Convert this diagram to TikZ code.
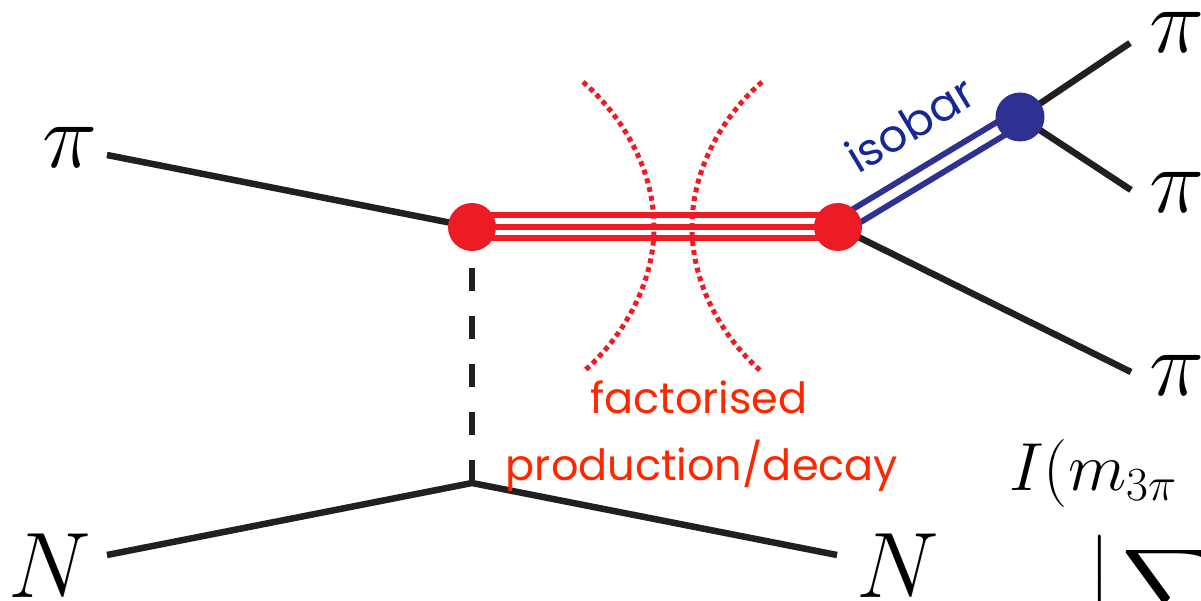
\RequirePackage{fix-cm}
\documentclass[tikz,border=0pt]{standalone}
\usepackage{exscale}
\usepackage{fontspec}
\usepackage{tikz}
\DeclareFontShape{OMX}{cmex}{m}{n}{<->cmex10}{}
\newfontfamily\slidefont{Poppins}
\definecolor{legblack}{RGB}{35,31,32}
\definecolor{prodred}{RGB}{237,28,36}
\definecolor{textred}{RGB}{255,38,0}
\definecolor{isoblue}{RGB}{46,49,146}
\definecolor{isotext}{RGB}{20,40,150}
\tikzset{
  leg/.style={line width=6.5pt,legblack},
  exchange/.style={line width=6pt,legblack,dash pattern=on 23pt off 25pt},
  reddot/.style={circle,fill=prodred,minimum size=48pt,inner sep=0pt},
  bluedot/.style={circle,fill=isoblue,minimum size=49pt,inner sep=0pt},
  cutline/.style={line width=5pt,prodred,dash pattern=on 5pt off 4pt},
  particle/.style={anchor=base west,inner sep=0pt,font=\fontsize{93}{93}\selectfont},
  formula/.style={anchor=base west,inner sep=0pt,font=\fontsize{68}{68}\selectfont},
  cutlabel/.style={anchor=base,inner sep=0pt,textred,font=\slidefont\fontsize{43}{43}\selectfont},
  isolabel/.style={inner sep=0pt,isotext,font=\slidefont\fontsize{45}{45}\selectfont}
}

\begin{document}
\begin{tikzpicture}[x=1pt,y=-1pt]
  \useasboundingbox (0,0) rectangle (1201,601);
  \clip (0,0) rectangle (1201,601);

  % vertices
  \coordinate (vprod) at (472,227);
  \coordinate (vdec)  at (838,227);
  \coordinate (viso)  at (1020,117);
  \coordinate (vrec)  at (472,483);

  % external legs
  \node[particle] (pin)  at (42,168)   {$\pi$};
  \node[particle] (piA)  at (1149,53)  {$\pi$};
  \node[particle] (piB)  at (1149,213) {$\pi$};
  \node[particle] (piC)  at (1149,395) {$\pi$};
  \node[particle] (nin)  at (8,597)    {$N$};
  \node[particle] (nout) at (856,597)  {$N$};
  \coordinate (pinend)  at (107,155);
  \coordinate (piAend)  at (1130,43);
  \coordinate (piBend)  at (1131,190);
  \coordinate (piCend)  at (1131,372);
  \coordinate (ninend)  at (107,555);
  \coordinate (noutend) at (837,555);

  \draw[leg] (pinend) -- (vprod);
  \draw[leg] (viso) -- (piAend);
  \draw[leg] (viso) -- (piBend);
  \draw[leg] (vdec) -- (piCend);
  \draw[leg] (ninend) -- (vrec) -- (noutend);
  \draw[exchange] (vrec) -- (vprod);

  % resonance and isobar
  \draw[line width=29pt,prodred] (vprod) -- (vdec);
  \draw[line width=17pt,white] (vprod) -- (vdec);
  \draw[line width=6pt,prodred] (vprod) -- (vdec);
  \draw[isoblue,line width=6pt,double=white,double distance=9pt] (vdec) -- (viso);

  \node[reddot] (dprod) at (vprod) {};
  \node[reddot] (ddec)  at (vdec)  {};
  \node[bluedot] (diso) at (viso)  {};

  % factorisation cut
  \draw[cutline] (583,82) .. controls (618,112) and (654,165) .. (654,227)
                          .. controls (654,289) and (618,342) .. (583,372);
  \draw[cutline] (762,82) .. controls (727,112) and (692,165) .. (692,227)
                          .. controls (692,289) and (727,342) .. (762,372);

  \node[cutlabel] (cutA) at (699,413) {factorised};
  \node[cutlabel] (cutB) at (702,480) {production/decay};
  \node[isolabel,rotate=31.1] (iso) at (910,124) {isobar};

  \node[formula] (ints) at (1009,490) {$I(m_{3\pi}$};
  \node[formula] (sums) at (1088,615) {$\displaystyle\Big|\sum$};
\end{tikzpicture}
\end{document}
